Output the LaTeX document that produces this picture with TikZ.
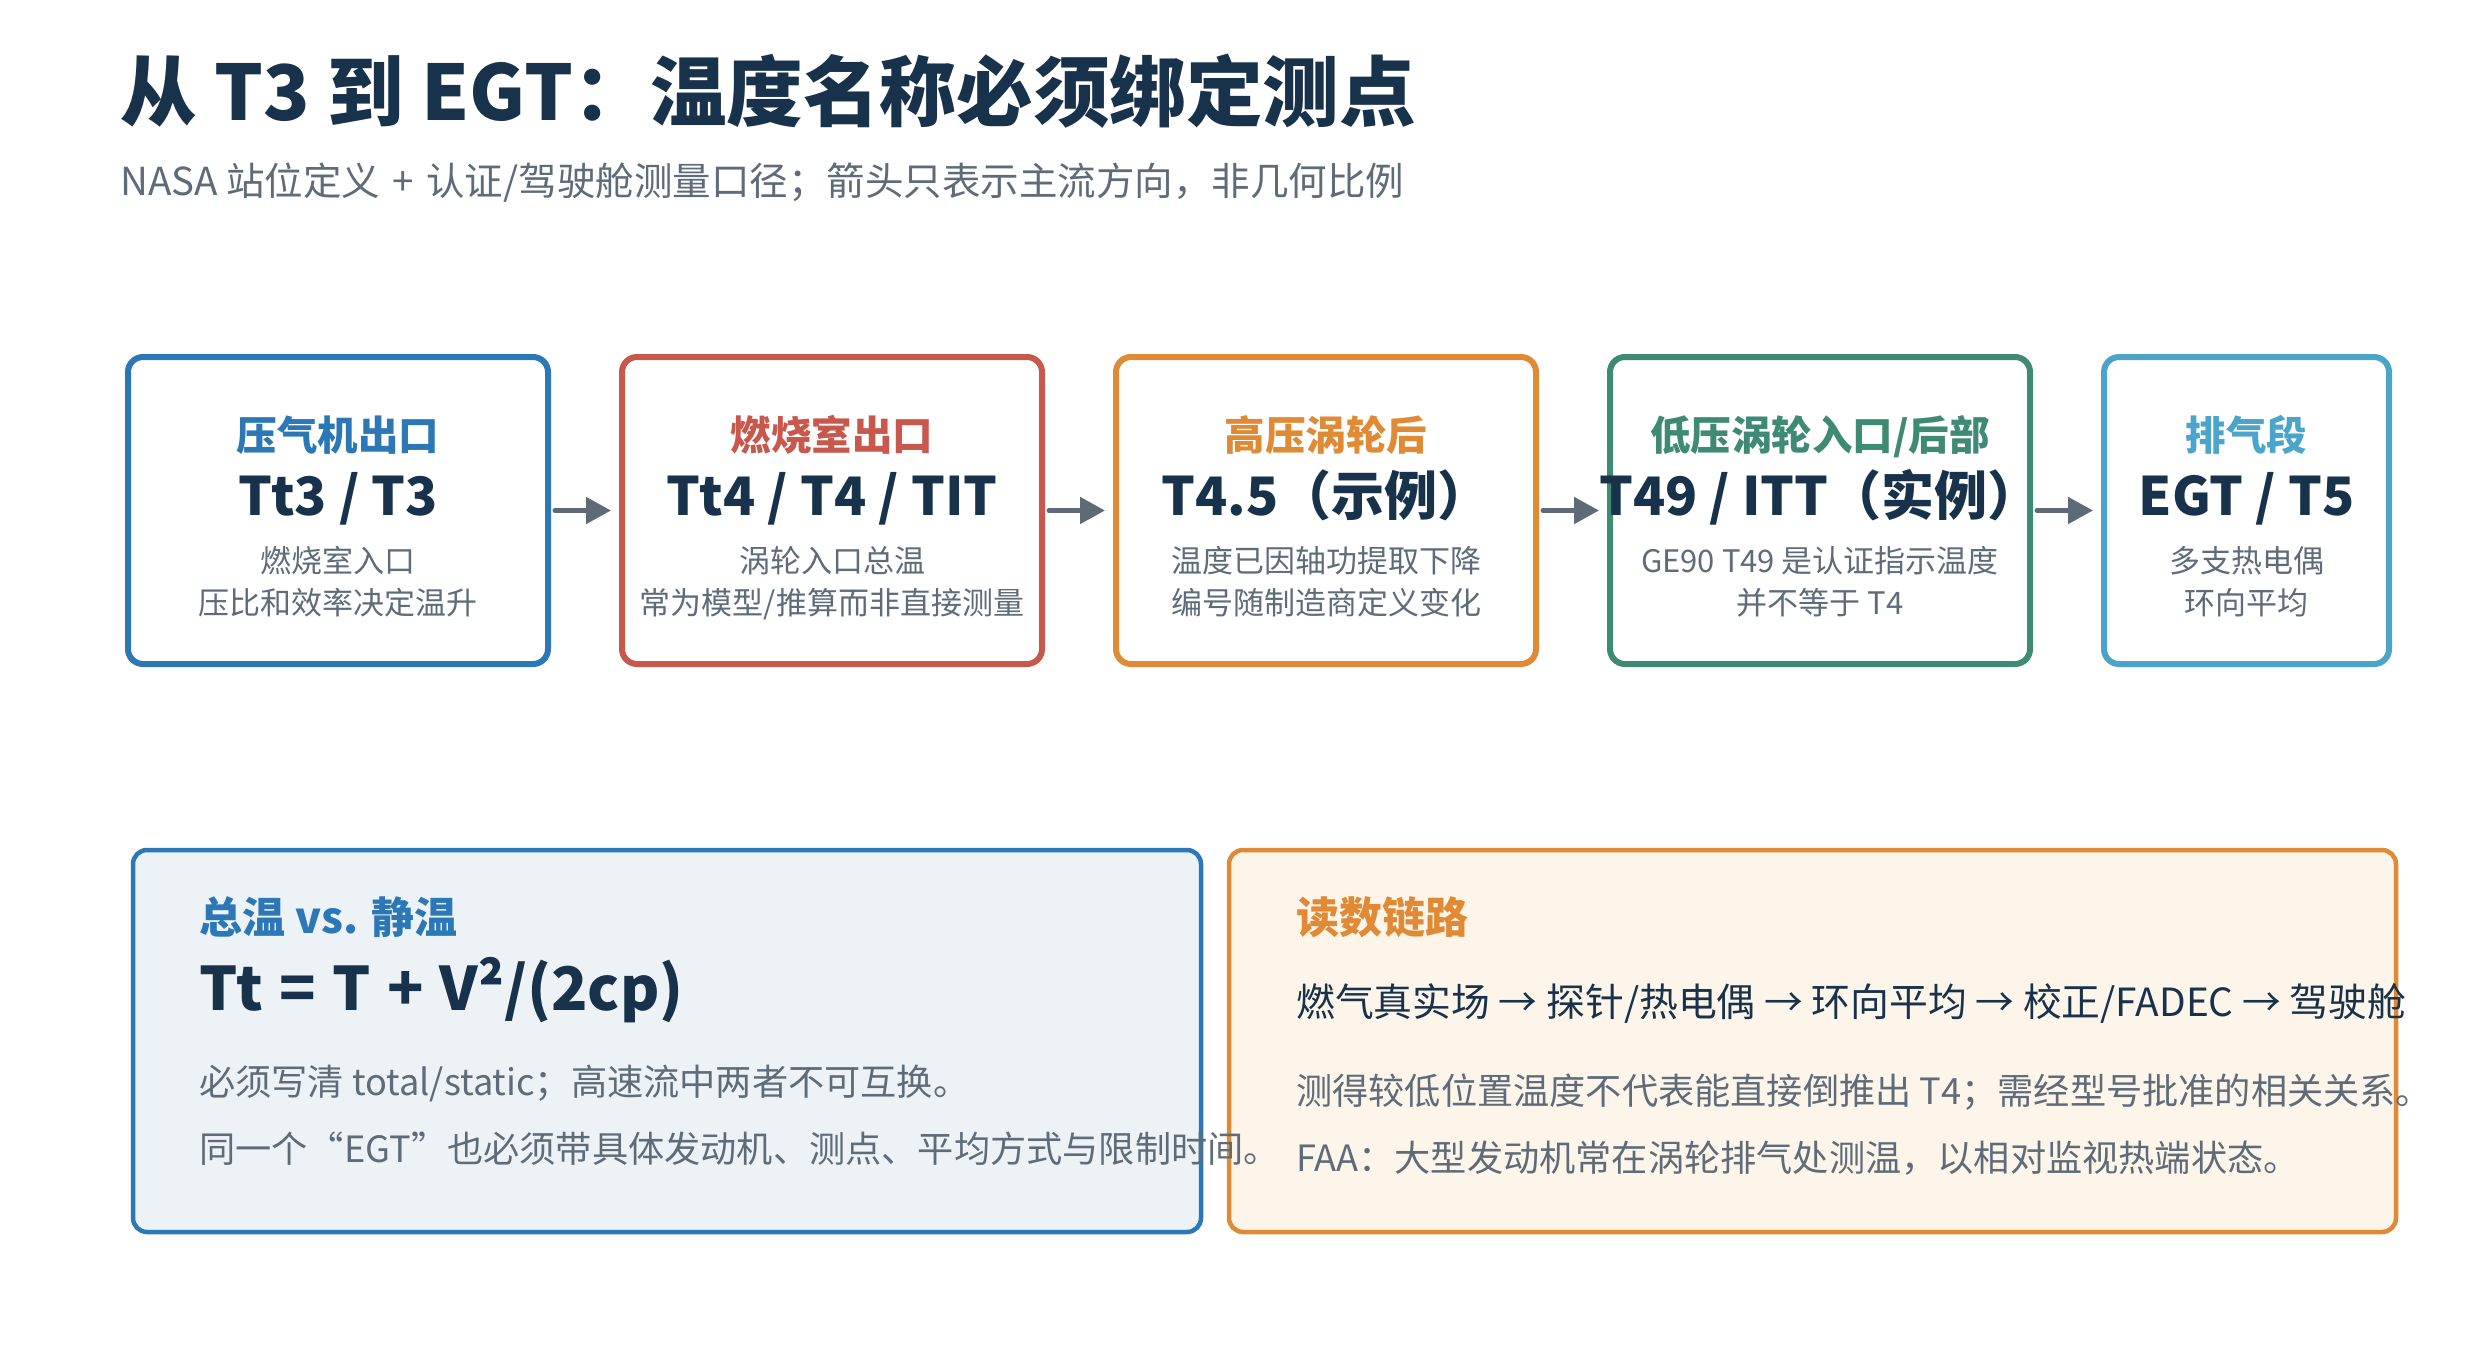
\documentclass[tikz,border=0pt]{standalone}
\usepackage{fontspec}
\setmainfont{Noto Sans CJK SC}
\usetikzlibrary{arrows.meta}
\definecolor{navy}{HTML}{17324A}
\definecolor{subgray}{HTML}{5E6C79}
\definecolor{cblue}{HTML}{2C78B6}
\definecolor{cred}{HTML}{C8584C}
\definecolor{corange}{HTML}{E08A36}
\definecolor{cgreen}{HTML}{3F8A74}
\definecolor{clight}{HTML}{4BA5CA}
\definecolor{arrowgray}{HTML}{5E6B76}
\definecolor{leftfill}{HTML}{EDF2F6}
\definecolor{rightfill}{HTML}{FDF5EA}
\newcommand{\fs}[1]{\fontsize{#1}{#1}\selectfont}
\newcommand{\wsp}{\hspace{0.32em}}
\newcommand{\fsp}{\hspace{0.27em}}
\tikzset{
  stagebox/.style={draw, line width=6pt, rounded corners=15pt, fill=white,
    minimum width=420pt, minimum height=307pt, inner sep=0pt},
  panel/.style={draw, line width=4.5pt, rounded corners=14pt,
    minimum height=382pt, inner sep=0pt},
  txt/.style={inner sep=0pt, anchor=base},
  txtl/.style={inner sep=0pt, anchor=base west},
  hdr/.style={txt, font=\fs{40.5}\bfseries},
  lbl/.style={txt, font=\fs{53}\bfseries, text=navy},
  desc/.style={txt, font=\fs{31}, text=subgray},
  flow/.style={draw=arrowgray, line width=5pt, line cap=round,
    -{Triangle[length=25pt,width=26pt]}, shorten <=4pt, shorten >=8pt},
  body/.style={txtl, font=\fs{36.2}, text=subgray},
}
\begin{document}
\begin{tikzpicture}[x=1pt,y=-1pt]
\useasboundingbox[fill=white] (0,0) rectangle (2470,1353);

% title
\node[txtl, font=\fs{76.6}\bfseries, text=navy] (title) at (120,120) {从 T3 到 EGT：温度名称必须绑定测点};
\node[txtl, font=\fs{38.5}, text=subgray] (subtitle) at (120,195.5) {NASA 站位定义\wsp{}+\wsp{}认证/驾驶舱测量口径；箭头只表示主流方向，非几何比例};

% stage boxes
\node[stagebox, draw=cblue] (b1) at (338,510.5) {};
\node[stagebox, draw=cred] (b2) at (832,510.5) {};
\node[stagebox, draw=corange] (b3) at (1326,510.5) {};
\node[stagebox, draw=cgreen] (b4) at (1820,510.5) {};
\node[stagebox, draw=clight, minimum width=285pt] (b5) at (2246.5,510.5) {};

\draw[flow] (b1) -- (b2);
\draw[flow] (b2) -- (b3);
\draw[flow] (b3) -- (b4);
\draw[flow] (b4) -- (b5);

% box 1
\node[hdr, text=cblue] (h1) at (338,450) {压气机出口};
\node[lbl] (l1) at (338,515.5) {Tt3 / T3};
\node[desc] (d1a) at (338,572.5) {燃烧室入口};
\node[desc] (d1b) at (338,614.5) {压比和效率决定温升};
% box 2
\node[hdr, text=cred] (h2) at (832,450) {燃烧室出口};
\node[lbl] (l2) at (832,515.5) {Tt4 / T4 / TIT};
\node[desc] (d2a) at (832,572.5) {涡轮入口总温};
\node[desc] (d2b) at (832,614.5) {常为模型/推算而非直接测量};
% box 3
\node[hdr, text=corange] (h3) at (1326,450) {高压涡轮后};
\node[lbl] (l3) at (1326,515.5) {T4.5（示例）};
\node[desc] (d3a) at (1326,572.5) {温度已因轴功提取下降};
\node[desc] (d3b) at (1326,614.5) {编号随制造商定义变化};
% box 4
\node[hdr, text=cgreen] (h4) at (1820,450) {低压涡轮入口/后部};
\node[lbl] (l4) at (1820,515.5) {T49 / ITT（实例）};
\node[desc] (d4a) at (1820,572.5) {GE90 T49 是认证指示温度};
\node[desc] (d4b) at (1820,614.5) {并不等于 T4};
% box 5
\node[hdr, text=clight] (h5) at (2246.5,450) {排气段};
\node[lbl] (l5) at (2246.5,515.5) {EGT / T5};
\node[desc] (d5a) at (2246.5,572.5) {多支热电偶};
\node[desc] (d5b) at (2246.5,614.5) {环向平均};

% bottom panels
\node[panel, draw=cblue, fill=leftfill, minimum width=1068pt] (pl) at (667,1041) {};
\node[panel, draw=corange, fill=rightfill, minimum width=1167pt] (pr) at (1812.5,1041) {};

\node[txtl, font=\fs{43}\bfseries, text=cblue] (plt) at (199,933) {总温 vs. 静温};
\node[txtl, font=\fs{60}\bfseries, text=navy] (formula) at (199,1010) {Tt\fsp{}=\fsp{}T\fsp{}+\fsp{}V²/(2cp)};
\node[body] (pl1) at (199,1095) {必须写清 total/static；高速流中两者不可互换。};
\node[body] (pl2) at (199,1162) {同一个“EGT”也必须带具体发动机、测点、平均方式与限制时间。};

\node[txtl, font=\fs{43}\bfseries, text=corange] (prt) at (1296,933) {读数链路};
\node[txtl, font=\fs{38.8}, text=navy] (chain) at (1296,1016.5) {燃气真实场 → 探针/热电偶 → 环向平均 → 校正/FADEC → 驾驶舱};
\node[body] (pr1) at (1296,1104) {测得较低位置温度不代表能直接倒推出 T4；需经型号批准的相关关系。};
\node[body] (pr2) at (1296,1171) {FAA：大型发动机常在涡轮排气处测温，以相对监视热端状态。};
\end{tikzpicture}
\end{document}
